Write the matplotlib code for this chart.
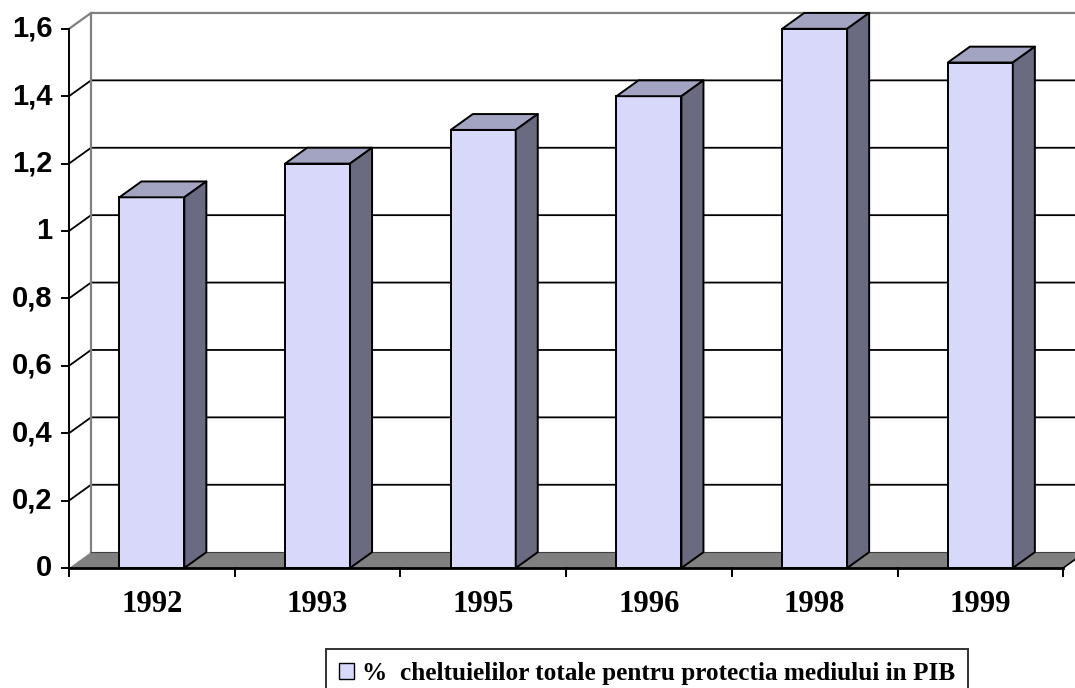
import numpy as np
import matplotlib
matplotlib.use("Agg")
import matplotlib.pyplot as plt
from matplotlib.patches import Polygon, Rectangle, Patch

# =============================================================================
# Daten
# =============================================================================

years = ["1992", "1993", "1995", "1996", "1998", "1999"]
share_pct = [1.1, 1.2, 1.3, 1.4, 1.6, 1.5]
y_ticks = [0, 0.2, 0.4, 0.6, 0.8, 1.0, 1.2, 1.4, 1.6]
y_tick_labels = ["0", "0,2", "0,4", "0,6", "0,8", "1", "1,2", "1,4", "1,6"]
legend_label = "%  cheltuielilor totale pentru protectia mediului in PIB"

# =============================================================================
# Stil / Geometrie (Pseudo-3D wie Excel)
# =============================================================================

FRONT = "#D8D8FA"
TOP = "#A3A3C2"
SIDE = "#6A6A80"
FLOOR = "#808080"
WALL_EDGE = "#808080"

DX = 0.133      # Tiefe in Kategorie-Einheiten
DY = 0.047      # Tiefe in Werte-Einheiten
HALF_W = 0.196  # halbe Balkenbreite
N = len(years)
Y_MAX = 1.6

fig = plt.figure(figsize=(10.75, 6.88), dpi=100)
ax = fig.add_axes([0, 0, 1, 1])
ax.set_xlim(-69 / 165.7, (1075 - 69) / 165.7)
ax.set_ylim((568 - 688) / 337, 568 / 337)
ax.axis("off")

# Rueckwand: Gitterlinien + Seitenwand-Diagonalen
for v in y_ticks[1:-1]:
    ax.plot([0, DX, N + DX], [v, v + DY, v + DY], color="black", lw=1.3, zorder=1)
ax.plot([0, DX, N + DX], [Y_MAX, Y_MAX + DY, Y_MAX + DY], color=WALL_EDGE, lw=1.6, zorder=1)
ax.plot([DX, DX], [DY, Y_MAX + DY], color=WALL_EDGE, lw=1.6, zorder=1)

# Boden
ax.add_patch(Polygon([(0, 0), (N, 0), (N + DX, DY), (DX, DY)], closed=True,
                     facecolor=FLOOR, edgecolor="none", zorder=2))
ax.plot([DX, N + DX], [DY, DY], color="#404040", lw=0.8, zorder=2)
ax.plot([N, N + DX], [0, DY], color="black", lw=1.2, zorder=2)

# Balken
for i, v in enumerate(share_pct):
    left = i + 0.5 - HALF_W
    right = i + 0.5 + HALF_W
    ax.add_patch(Rectangle((left, 0), right - left, v, facecolor=FRONT,
                           edgecolor="black", lw=1.4, zorder=3))
    ax.add_patch(Polygon([(left, v), (right, v), (right + DX, v + DY), (left + DX, v + DY)],
                         closed=True, facecolor=TOP, edgecolor="black", lw=1.4,
                         joinstyle="round", zorder=3))
    ax.add_patch(Polygon([(right, 0), (right + DX, DY), (right + DX, v + DY), (right, v)],
                         closed=True, facecolor=SIDE, edgecolor="black", lw=1.4,
                         joinstyle="round", zorder=3))

# Achsen vorne
ax.plot([0, 0], [0, Y_MAX], color="black", lw=1.4, zorder=4)
ax.plot([0, N], [0, 0], color="black", lw=2.0, zorder=4)
for v, lab in zip(y_ticks, y_tick_labels):
    ax.plot([-0.042, 0], [v, v], color="black", lw=1.4, zorder=4)
    ax.text(-0.1, v, lab, ha="right", va="center", fontsize=21,
            fontweight="bold", family="Liberation Sans")
for k in range(N + 1):
    ax.plot([k, k], [0, -0.024], color="black", lw=1.4, zorder=4)
for i, year in enumerate(years):
    ax.text(i + 0.5, -0.107, year, ha="center", va="center", fontsize=22,
            fontweight="bold", family="Liberation Serif")

# Legende
handle = Patch(facecolor=FRONT, edgecolor="black", lw=1.0)
leg = fig.legend([handle], [legend_label], loc="upper left",
                 bbox_to_anchor=(326 / 1075, 1 - 649 / 688),
                 prop={"family": "Liberation Serif", "weight": "bold", "size": 18.2},
                 frameon=True, fancybox=False, borderpad=0.5, borderaxespad=0,
                 handlelength=0.6, handleheight=0.6, handletextpad=0.33)
leg.get_frame().set_edgecolor("black")
leg.get_frame().set_linewidth(1.4)

fig.savefig("out.png", dpi=100)
